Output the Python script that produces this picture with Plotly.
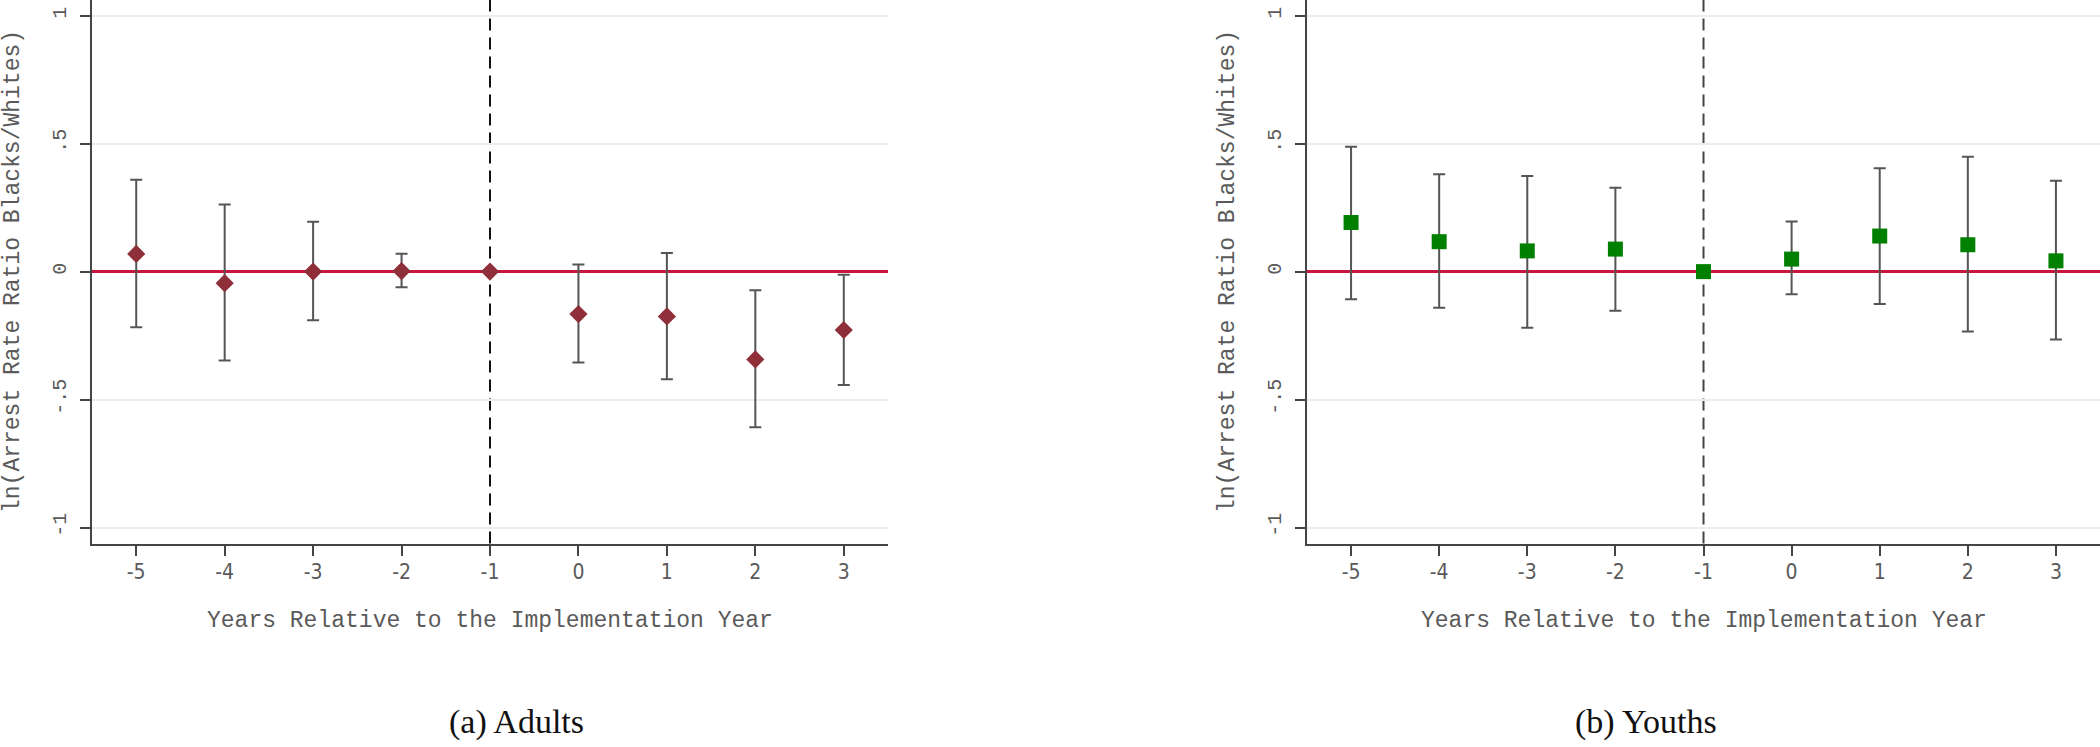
import plotly.graph_objects as go

# ---- data ----
years = [-5, -4, -3, -2, -1, 0, 1, 2, 3]

adults_est = [0.069, -0.045, 0.000, 0.002, 0.0, -0.166, -0.175, -0.343, -0.228]
adults_hi = [0.359, 0.262, 0.195, 0.070, None, 0.028, 0.073, -0.073, -0.012]
adults_lo = [-0.217, -0.347, -0.190, -0.061, None, -0.355, -0.420, -0.608, -0.443]

youths_est = [0.192, 0.117, 0.081, 0.088, 0.0, 0.049, 0.139, 0.105, 0.042]
youths_hi = [0.488, 0.380, 0.374, 0.328, None, 0.196, 0.404, 0.449, 0.355]
youths_lo = [-0.108, -0.141, -0.219, -0.153, None, -0.088, -0.126, -0.234, -0.265]

y_ticks = [-1, -0.5, 0, 0.5, 1]
y_tick_text = ["-1", "-.5", "0", ".5", "1"]
x_title = "Years Relative to the Implementation Year"
y_title = "ln(Arrest Rate Ratio Blacks/Whites)"
captions = ["(a) Adults", "(b) Youths"]

# ---- figure geometry ----
W, H = 2100, 747
px_x = lambda p: p / W
px_y = lambda p: 1 - p / H

MONO = "Liberation Mono, DejaVu Sans Mono, monospace"
NARROW = "Liberation Sans Narrow, DejaVu Sans Condensed, Arial Narrow, sans-serif"
SERIF = "Liberation Serif, Times New Roman, serif"
TXT = "#5a5a5a"


def err(est, hi, lo):
    up = [(h - e) if h is not None else 0 for e, h in zip(est, hi)]
    dn = [(e - l) if l is not None else 0 for e, l in zip(est, lo)]
    return up, dn


fig = go.Figure()

a_up, a_dn = err(adults_est, adults_hi, adults_lo)
y_up, y_dn = err(youths_est, youths_hi, youths_lo)

fig.add_trace(go.Scatter(
    x=years, y=adults_est, mode="markers", xaxis="x", yaxis="y",
    marker=dict(symbol="diamond", size=14, color="#8e2f3a", line=dict(width=0)),
    error_y=dict(type="data", array=a_up, arrayminus=a_dn, symmetric=False,
                 color="#555555", thickness=2, width=6),
    showlegend=False))

fig.add_trace(go.Scatter(
    x=years, y=youths_est, mode="markers", xaxis="x2", yaxis="y2",
    marker=dict(symbol="square", size=15, color="#008000", line=dict(width=0)),
    error_y=dict(type="data", array=y_up, arrayminus=y_dn, symmetric=False,
                 color="#555555", thickness=2, width=6),
    showlegend=False))

xdom1 = [px_x(92), px_x(888)]
xdom2 = [px_x(1307), 1.0]
ydom = [px_y(543.5), 1.0]

common_x = dict(range=[-5.5, 3.5], tickmode="array", tickvals=years,
                ticktext=[str(v) for v in years], ticks="outside", ticklen=10,
                tickwidth=1.5, tickcolor="#444444", showline=True, linecolor="#444444",
                linewidth=2, showgrid=False, zeroline=False, ticklabelstandoff=-2,
                tickfont=dict(family=NARROW, size=21, color=TXT))
common_y = dict(range=[-1.062, 1.061], tickmode="array", tickvals=y_ticks,
                ticktext=y_tick_text, ticks="outside", ticklen=10, tickwidth=1.5,
                tickcolor="#444444", showline=True, linecolor="#444444", linewidth=2,
                showgrid=True, gridcolor="#e6eff1", gridwidth=1.5,
                zeroline=True, zerolinecolor="#c8163f", zerolinewidth=3,
                tickangle=-90, ticklabelstandoff=6,
                tickfont=dict(family=MONO, size=20, color=TXT))

fig.update_layout(
    width=W, height=H, margin=dict(l=0, r=0, t=0, b=0),
    paper_bgcolor="white", plot_bgcolor="white",
    xaxis=dict(domain=xdom1, anchor="y", **common_x),
    yaxis=dict(domain=ydom, anchor="x", **common_y),
    xaxis2=dict(domain=xdom2, anchor="y2", **common_x),
    yaxis2=dict(domain=ydom, anchor="x2", **common_y),
)

# vertical reference line at the base year
for xa, ya, vcol in [("x", "y", "#111111"), ("x2", "y2", "#444444")]:
    fig.add_shape(type="line", xref=xa, yref=f"{ya} domain", x0=-1, x1=-1, y0=0, y1=1,
                  line=dict(color=vcol, width=2, dash="12px,7px"), layer="below")

# titles as annotations
for xc, axis_left in [((92 + 888) / 2, 92), ((1307 + 2100) / 2, 1307)]:
    fig.add_annotation(x=px_x(xc), y=px_y(621), xref="paper", yref="paper",
                       text=x_title, showarrow=False, xanchor="center", yanchor="middle",
                       font=dict(family=MONO, size=23, color=TXT))
    fig.add_annotation(x=px_x(axis_left - 79), y=px_y(272), xref="paper", yref="paper",
                       text=y_title, showarrow=False, textangle=-90,
                       xanchor="center", yanchor="middle",
                       font=dict(family=MONO, size=23, color=TXT))

for xc, cap in zip([516, 1646], captions):
    fig.add_annotation(x=px_x(xc), y=px_y(722), xref="paper", yref="paper",
                       text=cap, showarrow=False, xanchor="center", yanchor="middle",
                       font=dict(family=SERIF, size=34, color="#111111"))

fig.write_html(
    "out.html",
    config={"displayModeBar": False},
    post_script="document.body.style.margin='0';document.body.style.overflow='hidden';",
)
